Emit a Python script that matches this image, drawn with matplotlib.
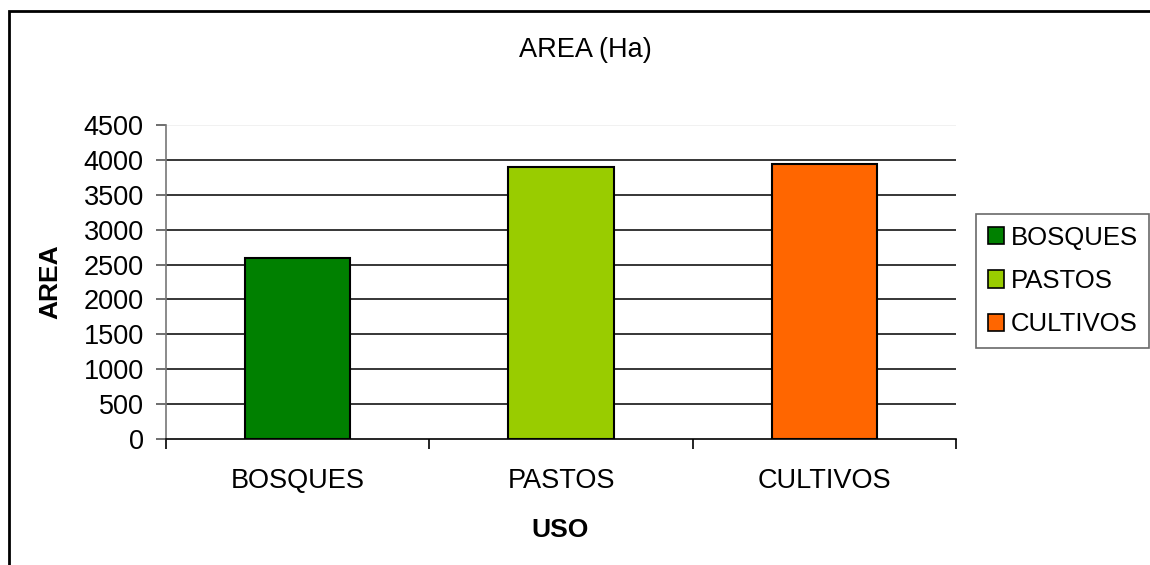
import matplotlib
matplotlib.use("Agg")
import matplotlib.pyplot as plt
from matplotlib.patches import Rectangle, Patch

plt.rcParams['font.family'] = ['Liberation Sans', 'DejaVu Sans']

usos = ['BOSQUES', 'PASTOS', 'CULTIVOS']
area = [2600, 3900, 3940]
colores = ['#008000', '#99CC00', '#FF6600']
yticks = [0, 500, 1000, 1500, 2000, 2500, 3000, 3500, 4000, 4500]

fig = plt.figure(figsize=(11.5, 5.65), dpi=100)
ax = fig.add_axes([166/1150, 126/565, 790/1150, 314/565])

# grid lines first so bars sit on top
for v in yticks[1:-1]:
    ax.axhline(v, color='black', lw=1.1, zorder=1)
ax.axhline(4500, color='#eeeeee', lw=1.1, zorder=1)

x = list(range(len(usos)))
ax.bar(x, area, width=0.4, color=colores, edgecolor='black', lw=1.5, zorder=3)

ax.set_xlim(-0.5, 2.5)
ax.set_ylim(0, 4500)
ax.set_yticks(yticks)
ax.set_xticks(x)
ax.set_xticklabels(usos)
ax.set_xticks([-0.5, 0.5, 1.5, 2.5], minor=True)
ax.tick_params(axis='x', which='major', length=0, labelsize=19.5, pad=21)
ax.tick_params(axis='x', which='minor', length=7, width=1.2, color='black', direction='out')
ax.tick_params(axis='y', length=7, width=1.2, color='#555555', labelsize=19.5, pad=9)

for s in ['top', 'right']:
    ax.spines[s].set_visible(False)
ax.spines['left'].set_color('#777777')
ax.spines['left'].set_linewidth(1.2)
ax.spines['bottom'].set_color('black')
ax.spines['bottom'].set_linewidth(1.2)

fig.text(585/1150, 1 - 50/565, 'AREA (Ha)', ha='center', va='center', fontsize=19.5)
fig.text(50/1150, 1 - 282/565, 'AREA', ha='center', va='center', rotation=90,
         fontsize=19, fontweight='bold')
fig.text(560/1150, 1 - 530/565, 'USO', ha='center', va='center',
         fontsize=19, fontweight='bold')

handles = [Patch(facecolor=c, edgecolor='black', lw=1.2) for c in colores]
leg = fig.legend(handles, usos, loc='center left', bbox_to_anchor=(976/1150, 1 - 281/565),
                 fontsize=18.5, frameon=True, fancybox=False, handlelength=0.65,
                 handleheight=0.65, handletextpad=0.25, borderpad=0.45, labelspacing=0.75,
                 borderaxespad=0)
leg.get_frame().set_edgecolor('#444444')
leg.get_frame().set_linewidth(1.2)

fig.patches.append(Rectangle((9/1150, -0.1), 1.2, 1.1 - 11/565, transform=fig.transFigure,
                             fill=False, edgecolor='black', lw=2))

fig.savefig('out.png', dpi=100)
